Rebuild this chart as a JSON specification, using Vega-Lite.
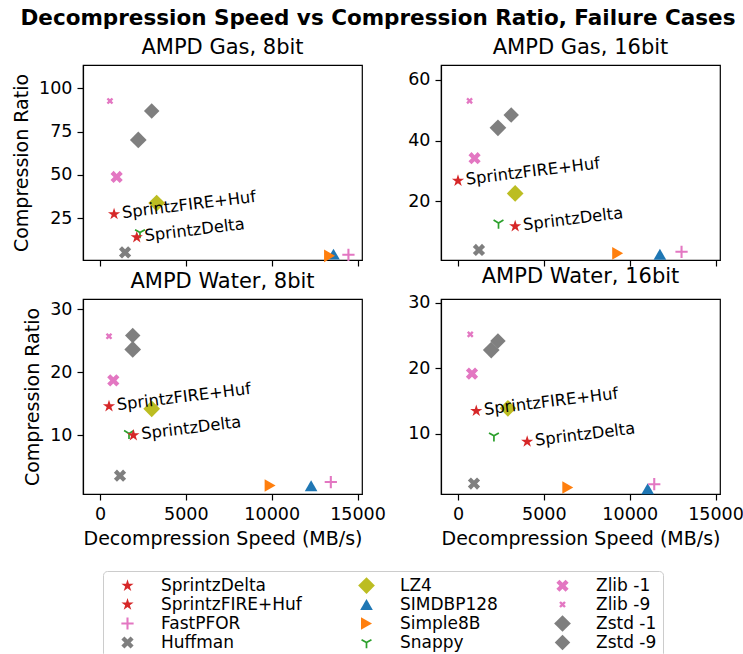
{
  "$schema": "https://vega.github.io/schema/vega-lite/v6.json",
  "background": "white",
  "padding": {"left": 11, "top": 7, "right": 5, "bottom": 5},
  "title": {"text": "Decompression Speed vs Compression Ratio, Failure Cases", "fontSize": 21.5, "fontWeight": "bold", "font": "DejaVu Sans", "color": "#000", "anchor": "middle", "offset": 7},
  "data": {"values": [
    {"panel": "AMPD Gas, 8bit", "algo": "Snappy", "speed": 2330, "ratio": 16.7},
    {"panel": "AMPD Gas, 8bit", "algo": "SIMDBP128", "speed": 13600, "ratio": 4.2},
    {"panel": "AMPD Gas, 8bit", "algo": "Simple8B", "speed": 13370, "ratio": 3.2},
    {"panel": "AMPD Gas, 8bit", "algo": "FastPFOR", "speed": 14470, "ratio": 3.8},
    {"panel": "AMPD Gas, 8bit", "algo": "Huffman", "speed": 1460, "ratio": 5.2},
    {"panel": "AMPD Gas, 8bit", "algo": "LZ4", "speed": 3300, "ratio": 33.7},
    {"panel": "AMPD Gas, 8bit", "algo": "Zlib -1", "speed": 970, "ratio": 48.8},
    {"panel": "AMPD Gas, 8bit", "algo": "Zlib -9", "speed": 580, "ratio": 92.7},
    {"panel": "AMPD Gas, 8bit", "algo": "Zstd -1", "speed": 2230, "ratio": 70.2},
    {"panel": "AMPD Gas, 8bit", "algo": "Zstd -9", "speed": 3010, "ratio": 86.9},
    {"panel": "AMPD Gas, 8bit", "algo": "SprintzDelta", "speed": 2140, "ratio": 13.9},
    {"panel": "AMPD Gas, 8bit", "algo": "SprintzFIRE+Huf", "speed": 820, "ratio": 27.3},

    {"panel": "AMPD Gas, 16bit", "algo": "Snappy", "speed": 2360, "ratio": 12.9},
    {"panel": "AMPD Gas, 16bit", "algo": "SIMDBP128", "speed": 11760, "ratio": 2.6},
    {"panel": "AMPD Gas, 16bit", "algo": "Simple8B", "speed": 9300, "ratio": 2.9},
    {"panel": "AMPD Gas, 16bit", "algo": "FastPFOR", "speed": 13020, "ratio": 3.4},
    {"panel": "AMPD Gas, 16bit", "algo": "Huffman", "speed": 1220, "ratio": 4.0},
    {"panel": "AMPD Gas, 16bit", "algo": "LZ4", "speed": 3330, "ratio": 22.6},
    {"panel": "AMPD Gas, 16bit", "algo": "Zlib -1", "speed": 965, "ratio": 34.2},
    {"panel": "AMPD Gas, 16bit", "algo": "Zlib -9", "speed": 674, "ratio": 53.1},
    {"panel": "AMPD Gas, 16bit", "algo": "Zstd -1", "speed": 2326, "ratio": 44.2},
    {"panel": "AMPD Gas, 16bit", "algo": "Zstd -9", "speed": 3100, "ratio": 48.4},
    {"panel": "AMPD Gas, 16bit", "algo": "SprintzDelta", "speed": 3330, "ratio": 11.8},
    {"panel": "AMPD Gas, 16bit", "algo": "SprintzFIRE+Huf", "speed": 0, "ratio": 26.8},

    {"panel": "AMPD Water, 8bit", "algo": "Snappy", "speed": 1690, "ratio": 10.3},
    {"panel": "AMPD Water, 8bit", "algo": "SIMDBP128", "speed": 12296, "ratio": 2.0},
    {"panel": "AMPD Water, 8bit", "algo": "Simple8B", "speed": 9907, "ratio": 2.04},
    {"panel": "AMPD Water, 8bit", "algo": "FastPFOR", "speed": 13444, "ratio": 2.6},
    {"panel": "AMPD Water, 8bit", "algo": "Huffman", "speed": 1166, "ratio": 3.6},
    {"panel": "AMPD Water, 8bit", "algo": "LZ4", "speed": 3012, "ratio": 14.2},
    {"panel": "AMPD Water, 8bit", "algo": "Zlib -1", "speed": 775, "ratio": 18.7},
    {"panel": "AMPD Water, 8bit", "algo": "Zlib -9", "speed": 524, "ratio": 25.7},
    {"panel": "AMPD Water, 8bit", "algo": "Zstd -1", "speed": 1906, "ratio": 23.6},
    {"panel": "AMPD Water, 8bit", "algo": "Zstd -9", "speed": 1906, "ratio": 25.8},
    {"panel": "AMPD Water, 8bit", "algo": "SprintzDelta", "speed": 1943, "ratio": 10.0},
    {"panel": "AMPD Water, 8bit", "algo": "SprintzFIRE+Huf", "speed": 524, "ratio": 14.6},

    {"panel": "AMPD Water, 16bit", "algo": "Snappy", "speed": 2093, "ratio": 9.7},
    {"panel": "AMPD Water, 16bit", "algo": "SIMDBP128", "speed": 11047, "ratio": 1.6},
    {"panel": "AMPD Water, 16bit", "algo": "Simple8B", "speed": 6395, "ratio": 1.8},
    {"panel": "AMPD Water, 16bit", "algo": "FastPFOR", "speed": 11430, "ratio": 2.3},
    {"panel": "AMPD Water, 16bit", "algo": "Huffman", "speed": 930, "ratio": 2.4},
    {"panel": "AMPD Water, 16bit", "algo": "LZ4", "speed": 2907, "ratio": 13.9},
    {"panel": "AMPD Water, 16bit", "algo": "Zlib -1", "speed": 814, "ratio": 19.2},
    {"panel": "AMPD Water, 16bit", "algo": "Zlib -9", "speed": 715, "ratio": 25.2},
    {"panel": "AMPD Water, 16bit", "algo": "Zstd -1", "speed": 1936, "ratio": 22.8},
    {"panel": "AMPD Water, 16bit", "algo": "Zstd -9", "speed": 2326, "ratio": 24.2},
    {"panel": "AMPD Water, 16bit", "algo": "SprintzDelta", "speed": 4029, "ratio": 8.8},
    {"panel": "AMPD Water, 16bit", "algo": "SprintzFIRE+Huf", "speed": 1064, "ratio": 13.5}
  ]},
  "columns": 2,
  "spacing": {"row": 39, "column": 79},
  "bounds": "flush",
  "concat": [
    {
      "title": "AMPD Gas, 8bit",
      "width": 279, "height": 195,
      "transform": [{"filter": "datum.panel === 'AMPD Gas, 8bit'"}],
      "encoding": {
        "x": {"field": "speed", "type": "quantitative", "scale": {"domain": [-990, 15260], "nice": false, "zero": false}, "axis": {"values": [0, 5000, 10000, 15000], "format": "d", "labels": false, "title": null}},
        "y": {"field": "ratio", "type": "quantitative", "scale": {"domain": [0.8, 113.5], "nice": false, "zero": false}, "axis": {"values": [25, 50, 75, 100], "title": "Compression Ratio"}}
      },
      "layer": [
        {"mark": {"type": "point", "filled": true, "opacity": 1, "strokeWidth": 0},
         "encoding": {
           "color": {"field": "algo", "type": "nominal", "scale": {"domain": ["SprintzDelta", "SprintzFIRE+Huf", "FastPFOR", "Huffman", "LZ4", "SIMDBP128", "Simple8B", "Snappy", "Zlib -1", "Zlib -9", "Zstd -1", "Zstd -9"], "range": ["#d62728", "#d62728", "#e377c2", "#7f7f7f", "#bcbd22", "#1f77b4", "#ff7f0e", "#2ca02c", "#e377c2", "#e377c2", "#7f7f7f", "#7f7f7f"]}, "legend": {"title": null, "orient": "none", "legendX": 20, "legendY": 506, "columns": 3}},
           "shape": {"field": "algo", "type": "nominal", "scale": {"domain": ["SprintzDelta", "SprintzFIRE+Huf", "FastPFOR", "Huffman", "LZ4", "SIMDBP128", "Simple8B", "Snappy", "Zlib -1", "Zlib -9", "Zstd -1", "Zstd -9"], "range": ["M0,-1L0.2245,-0.309L0.951,-0.309L0.363,0.118L0.588,0.809L0,0.382L-0.588,0.809L-0.363,0.118L-0.951,-0.309L-0.2245,-0.309Z", "M0,-1L0.2245,-0.309L0.951,-0.309L0.363,0.118L0.588,0.809L0,0.382L-0.588,0.809L-0.363,0.118L-0.951,-0.309L-0.2245,-0.309Z", "M-1,-0.17L1,-0.17L1,0.17L-1,0.17Z M-0.17,-1L0.17,-1L0.17,1L-0.17,1Z", "M-0.5,-1L0,-0.5L0.5,-1L1,-0.5L0.5,0L1,0.5L0.5,1L0,0.5L-0.5,1L-1,0.5L-0.5,0L-1,-0.5Z", "diamond", "triangle-up", "triangle-right", "M-0.15,1L0.15,1L0.15,0.087L0.941,-0.37L0.791,-0.63L0,-0.173L-0.791,-0.63L-0.941,-0.37L-0.15,0.087Z", "M-0.5,-1L0,-0.5L0.5,-1L1,-0.5L0.5,0L1,0.5L0.5,1L0,0.5L-0.5,1L-1,0.5L-0.5,0L-1,-0.5Z", "M-0.5,-1L0,-0.5L0.5,-1L1,-0.5L0.5,0L1,0.5L0.5,1L0,0.5L-0.5,1L-1,0.5L-0.5,0L-1,-0.5Z", "diamond", "diamond"]}, "legend": {"title": null, "orient": "none", "legendX": 20, "legendY": 506, "columns": 3}},
           "size": {"field": "algo", "type": "nominal", "scale": {"type": "ordinal", "domain": ["SprintzDelta", "SprintzFIRE+Huf", "FastPFOR", "Huffman", "LZ4", "SIMDBP128", "Simple8B", "Snappy", "Zlib -1", "Zlib -9", "Zstd -1", "Zstd -9"], "range": [165, 165, 150, 150, 280, 160, 160, 130, 150, 45, 280, 240]}, "legend": {"title": null, "orient": "none", "legendX": 20, "legendY": 506, "columns": 3}}
         }},
        {"transform": [{"filter": "datum.algo === 'SprintzDelta' || datum.algo === 'SprintzFIRE+Huf'"}],
         "mark": {"type": "text", "angle": -7, "align": "left", "baseline": "middle", "dx": 8, "fontSize": 16.3, "font": "DejaVu Sans", "color": "#000"},
         "encoding": {"text": {"field": "algo"}}}
      ]
    },
    {
      "title": "AMPD Gas, 16bit",
      "width": 279, "height": 195,
      "transform": [{"filter": "datum.panel === 'AMPD Gas, 16bit'"}],
      "encoding": {
        "x": {"field": "speed", "type": "quantitative", "scale": {"domain": [-990, 15260], "nice": false, "zero": false}, "axis": {"values": [0, 5000, 10000, 15000], "format": "d", "labels": false, "title": null}},
        "y": {"field": "ratio", "type": "quantitative", "scale": {"domain": [0.7, 64.9], "nice": false, "zero": false}, "axis": {"values": [20, 40, 60], "title": null}}
      },
      "layer": [
        {"mark": {"type": "point", "filled": true, "opacity": 1, "strokeWidth": 0},
         "encoding": {
           "color": {"field": "algo", "type": "nominal", "scale": {"domain": ["SprintzDelta", "SprintzFIRE+Huf", "FastPFOR", "Huffman", "LZ4", "SIMDBP128", "Simple8B", "Snappy", "Zlib -1", "Zlib -9", "Zstd -1", "Zstd -9"], "range": ["#d62728", "#d62728", "#e377c2", "#7f7f7f", "#bcbd22", "#1f77b4", "#ff7f0e", "#2ca02c", "#e377c2", "#e377c2", "#7f7f7f", "#7f7f7f"]}, "legend": {"title": null, "orient": "none", "legendX": 20, "legendY": 506, "columns": 3}},
           "shape": {"field": "algo", "type": "nominal", "scale": {"domain": ["SprintzDelta", "SprintzFIRE+Huf", "FastPFOR", "Huffman", "LZ4", "SIMDBP128", "Simple8B", "Snappy", "Zlib -1", "Zlib -9", "Zstd -1", "Zstd -9"], "range": ["M0,-1L0.2245,-0.309L0.951,-0.309L0.363,0.118L0.588,0.809L0,0.382L-0.588,0.809L-0.363,0.118L-0.951,-0.309L-0.2245,-0.309Z", "M0,-1L0.2245,-0.309L0.951,-0.309L0.363,0.118L0.588,0.809L0,0.382L-0.588,0.809L-0.363,0.118L-0.951,-0.309L-0.2245,-0.309Z", "M-1,-0.17L1,-0.17L1,0.17L-1,0.17Z M-0.17,-1L0.17,-1L0.17,1L-0.17,1Z", "M-0.5,-1L0,-0.5L0.5,-1L1,-0.5L0.5,0L1,0.5L0.5,1L0,0.5L-0.5,1L-1,0.5L-0.5,0L-1,-0.5Z", "diamond", "triangle-up", "triangle-right", "M-0.15,1L0.15,1L0.15,0.087L0.941,-0.37L0.791,-0.63L0,-0.173L-0.791,-0.63L-0.941,-0.37L-0.15,0.087Z", "M-0.5,-1L0,-0.5L0.5,-1L1,-0.5L0.5,0L1,0.5L0.5,1L0,0.5L-0.5,1L-1,0.5L-0.5,0L-1,-0.5Z", "M-0.5,-1L0,-0.5L0.5,-1L1,-0.5L0.5,0L1,0.5L0.5,1L0,0.5L-0.5,1L-1,0.5L-0.5,0L-1,-0.5Z", "diamond", "diamond"]}, "legend": {"title": null, "orient": "none", "legendX": 20, "legendY": 506, "columns": 3}},
           "size": {"field": "algo", "type": "nominal", "scale": {"type": "ordinal", "domain": ["SprintzDelta", "SprintzFIRE+Huf", "FastPFOR", "Huffman", "LZ4", "SIMDBP128", "Simple8B", "Snappy", "Zlib -1", "Zlib -9", "Zstd -1", "Zstd -9"], "range": [165, 165, 150, 150, 280, 160, 160, 130, 150, 45, 280, 240]}, "legend": {"title": null, "orient": "none", "legendX": 20, "legendY": 506, "columns": 3}}
         }},
        {"transform": [{"filter": "datum.algo === 'SprintzDelta' || datum.algo === 'SprintzFIRE+Huf'"}],
         "mark": {"type": "text", "angle": -7, "align": "left", "baseline": "middle", "dx": 8, "fontSize": 16.3, "font": "DejaVu Sans", "color": "#000"},
         "encoding": {"text": {"field": "algo"}}}
      ]
    },
    {
      "title": "AMPD Water, 8bit",
      "width": 279, "height": 195,
      "transform": [{"filter": "datum.panel === 'AMPD Water, 8bit'"}],
      "encoding": {
        "x": {"field": "speed", "type": "quantitative", "scale": {"domain": [-990, 15260], "nice": false, "zero": false}, "axis": {"values": [0, 5000, 10000, 15000], "format": "d", "title": "Decompression Speed (MB/s)"}},
        "y": {"field": "ratio", "type": "quantitative", "scale": {"domain": [0.7, 31.6], "nice": false, "zero": false}, "axis": {"values": [10, 20, 30], "title": "Compression Ratio"}}
      },
      "layer": [
        {"mark": {"type": "point", "filled": true, "opacity": 1, "strokeWidth": 0},
         "encoding": {
           "color": {"field": "algo", "type": "nominal", "scale": {"domain": ["SprintzDelta", "SprintzFIRE+Huf", "FastPFOR", "Huffman", "LZ4", "SIMDBP128", "Simple8B", "Snappy", "Zlib -1", "Zlib -9", "Zstd -1", "Zstd -9"], "range": ["#d62728", "#d62728", "#e377c2", "#7f7f7f", "#bcbd22", "#1f77b4", "#ff7f0e", "#2ca02c", "#e377c2", "#e377c2", "#7f7f7f", "#7f7f7f"]}, "legend": {"title": null, "orient": "none", "legendX": 20, "legendY": 506, "columns": 3}},
           "shape": {"field": "algo", "type": "nominal", "scale": {"domain": ["SprintzDelta", "SprintzFIRE+Huf", "FastPFOR", "Huffman", "LZ4", "SIMDBP128", "Simple8B", "Snappy", "Zlib -1", "Zlib -9", "Zstd -1", "Zstd -9"], "range": ["M0,-1L0.2245,-0.309L0.951,-0.309L0.363,0.118L0.588,0.809L0,0.382L-0.588,0.809L-0.363,0.118L-0.951,-0.309L-0.2245,-0.309Z", "M0,-1L0.2245,-0.309L0.951,-0.309L0.363,0.118L0.588,0.809L0,0.382L-0.588,0.809L-0.363,0.118L-0.951,-0.309L-0.2245,-0.309Z", "M-1,-0.17L1,-0.17L1,0.17L-1,0.17Z M-0.17,-1L0.17,-1L0.17,1L-0.17,1Z", "M-0.5,-1L0,-0.5L0.5,-1L1,-0.5L0.5,0L1,0.5L0.5,1L0,0.5L-0.5,1L-1,0.5L-0.5,0L-1,-0.5Z", "diamond", "triangle-up", "triangle-right", "M-0.15,1L0.15,1L0.15,0.087L0.941,-0.37L0.791,-0.63L0,-0.173L-0.791,-0.63L-0.941,-0.37L-0.15,0.087Z", "M-0.5,-1L0,-0.5L0.5,-1L1,-0.5L0.5,0L1,0.5L0.5,1L0,0.5L-0.5,1L-1,0.5L-0.5,0L-1,-0.5Z", "M-0.5,-1L0,-0.5L0.5,-1L1,-0.5L0.5,0L1,0.5L0.5,1L0,0.5L-0.5,1L-1,0.5L-0.5,0L-1,-0.5Z", "diamond", "diamond"]}, "legend": {"title": null, "orient": "none", "legendX": 20, "legendY": 506, "columns": 3}},
           "size": {"field": "algo", "type": "nominal", "scale": {"type": "ordinal", "domain": ["SprintzDelta", "SprintzFIRE+Huf", "FastPFOR", "Huffman", "LZ4", "SIMDBP128", "Simple8B", "Snappy", "Zlib -1", "Zlib -9", "Zstd -1", "Zstd -9"], "range": [165, 165, 150, 150, 280, 160, 160, 130, 150, 45, 280, 240]}, "legend": {"title": null, "orient": "none", "legendX": 20, "legendY": 506, "columns": 3}}
         }},
        {"transform": [{"filter": "datum.algo === 'SprintzDelta' || datum.algo === 'SprintzFIRE+Huf'"}],
         "mark": {"type": "text", "angle": -7, "align": "left", "baseline": "middle", "dx": 8, "fontSize": 16.3, "font": "DejaVu Sans", "color": "#000"},
         "encoding": {"text": {"field": "algo"}}}
      ]
    },
    {
      "title": "AMPD Water, 16bit",
      "width": 279, "height": 195,
      "transform": [{"filter": "datum.panel === 'AMPD Water, 16bit'"}],
      "encoding": {
        "x": {"field": "speed", "type": "quantitative", "scale": {"domain": [-990, 15260], "nice": false, "zero": false}, "axis": {"values": [0, 5000, 10000, 15000], "format": "d", "title": "Decompression Speed (MB/s)"}},
        "y": {"field": "ratio", "type": "quantitative", "scale": {"domain": [0.8, 30.6], "nice": false, "zero": false}, "axis": {"values": [10, 20, 30], "title": null}}
      },
      "layer": [
        {"mark": {"type": "point", "filled": true, "opacity": 1, "strokeWidth": 0},
         "encoding": {
           "color": {"field": "algo", "type": "nominal", "scale": {"domain": ["SprintzDelta", "SprintzFIRE+Huf", "FastPFOR", "Huffman", "LZ4", "SIMDBP128", "Simple8B", "Snappy", "Zlib -1", "Zlib -9", "Zstd -1", "Zstd -9"], "range": ["#d62728", "#d62728", "#e377c2", "#7f7f7f", "#bcbd22", "#1f77b4", "#ff7f0e", "#2ca02c", "#e377c2", "#e377c2", "#7f7f7f", "#7f7f7f"]}, "legend": {"title": null, "orient": "none", "legendX": 20, "legendY": 506, "columns": 3}},
           "shape": {"field": "algo", "type": "nominal", "scale": {"domain": ["SprintzDelta", "SprintzFIRE+Huf", "FastPFOR", "Huffman", "LZ4", "SIMDBP128", "Simple8B", "Snappy", "Zlib -1", "Zlib -9", "Zstd -1", "Zstd -9"], "range": ["M0,-1L0.2245,-0.309L0.951,-0.309L0.363,0.118L0.588,0.809L0,0.382L-0.588,0.809L-0.363,0.118L-0.951,-0.309L-0.2245,-0.309Z", "M0,-1L0.2245,-0.309L0.951,-0.309L0.363,0.118L0.588,0.809L0,0.382L-0.588,0.809L-0.363,0.118L-0.951,-0.309L-0.2245,-0.309Z", "M-1,-0.17L1,-0.17L1,0.17L-1,0.17Z M-0.17,-1L0.17,-1L0.17,1L-0.17,1Z", "M-0.5,-1L0,-0.5L0.5,-1L1,-0.5L0.5,0L1,0.5L0.5,1L0,0.5L-0.5,1L-1,0.5L-0.5,0L-1,-0.5Z", "diamond", "triangle-up", "triangle-right", "M-0.15,1L0.15,1L0.15,0.087L0.941,-0.37L0.791,-0.63L0,-0.173L-0.791,-0.63L-0.941,-0.37L-0.15,0.087Z", "M-0.5,-1L0,-0.5L0.5,-1L1,-0.5L0.5,0L1,0.5L0.5,1L0,0.5L-0.5,1L-1,0.5L-0.5,0L-1,-0.5Z", "M-0.5,-1L0,-0.5L0.5,-1L1,-0.5L0.5,0L1,0.5L0.5,1L0,0.5L-0.5,1L-1,0.5L-0.5,0L-1,-0.5Z", "diamond", "diamond"]}, "legend": {"title": null, "orient": "none", "legendX": 20, "legendY": 506, "columns": 3}},
           "size": {"field": "algo", "type": "nominal", "scale": {"type": "ordinal", "domain": ["SprintzDelta", "SprintzFIRE+Huf", "FastPFOR", "Huffman", "LZ4", "SIMDBP128", "Simple8B", "Snappy", "Zlib -1", "Zlib -9", "Zstd -1", "Zstd -9"], "range": [165, 165, 150, 150, 280, 160, 160, 130, 150, 45, 280, 240]}, "legend": {"title": null, "orient": "none", "legendX": 20, "legendY": 506, "columns": 3}}
         }},
        {"transform": [{"filter": "datum.algo === 'SprintzDelta' || datum.algo === 'SprintzFIRE+Huf'"}],
         "mark": {"type": "text", "angle": -7, "align": "left", "baseline": "middle", "dx": 8, "fontSize": 16.3, "font": "DejaVu Sans", "color": "#000"},
         "encoding": {"text": {"field": "algo"}}}
      ]
    }
  ],
  "resolve": {"scale": {"x": "independent", "y": "independent"}},
  "config": {
    "font": "DejaVu Sans",
    "view": {"stroke": "#000", "strokeWidth": 1.2},
    "axis": {"domainColor": "#000", "domainWidth": 1.2, "tickColor": "#000", "tickWidth": 1.2, "tickSize": 6, "labelColor": "#000", "labelFontSize": 17.5, "labelPadding": 5, "labelFont": "DejaVu Sans", "titleColor": "#000", "titleFontSize": 19, "titleFontWeight": "normal", "titleFont": "DejaVu Sans", "titlePadding": 7, "grid": false},
    "title": {"fontSize": 21, "fontWeight": "normal", "color": "#000", "font": "DejaVu Sans", "offset": 7},
    "legend": {"labelFontSize": 17, "labelFont": "DejaVu Sans", "labelColor": "#000", "strokeColor": "#cccccc", "cornerRadius": 4, "padding": 6, "symbolOffset": 10, "fillColor": "#ffffff", "columnPadding": 46, "rowPadding": 1, "symbolOpacity": 1, "labelOffset": 25, "symbolStrokeWidth": 0}
  }
}
